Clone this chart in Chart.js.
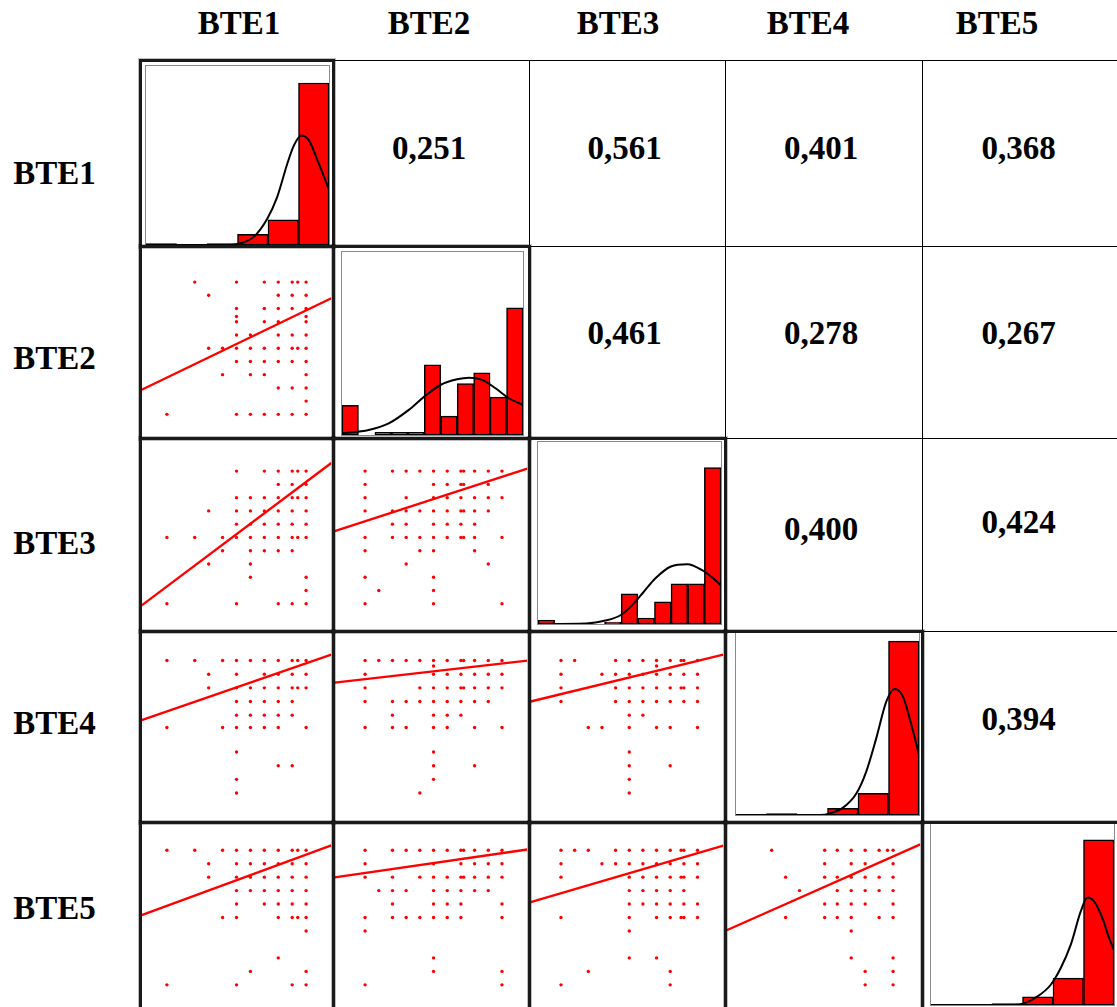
<!DOCTYPE html>
<html>
<head>
<meta charset="utf-8">
<script src="https://cdn.jsdelivr.net/npm/chart.js@4.4.1/dist/chart.umd.min.js"></script>
<style>
html,body{margin:0;padding:0;background:#fff;}
body{width:1117px;height:1007px;overflow:hidden;position:relative;font-family:"Liberation Serif","Times New Roman",serif;}
.txt{position:absolute;font-weight:bold;font-size:33px;line-height:36px;white-space:nowrap;color:#000;}
canvas{position:absolute;display:block;}
.frame{position:absolute;box-sizing:border-box;pointer-events:none;}
</style>
</head>
<body>
<script>
// ---------------- DATA ----------------
const variables = ['BTE1', 'BTE2', 'BTE3', 'BTE4', 'BTE5'];

// upper triangle: correlation coefficients (row i, columns i+1..5)
const corrRow1 = [0.251, 0.561, 0.401, 0.368];
const corrRow2 = [0.461, 0.278, 0.267];
const corrRow3 = [0.400, 0.424];
const corrRow4 = [0.394];

// diagonal: histogram counts per bin
const hist_BTE1 = [1, 0, 1, 8, 19, 122];
const hist_BTE2 = [11, 0, 1, 1, 1, 26, 7, 19, 23, 14, 47];
const hist_BTE3 = [2, 0, 0, 0, 1, 15, 3, 11, 20, 20, 78];
const hist_BTE4 = [0, 1, 0, 5, 16, 128];
const hist_BTE5 = [0, 0, 1, 6, 20, 123];
const histYMax  = [134.8, 67.7, 90.8, 134, 135.6];

// diagonal: fitted normal curve [bin position, count]
const curve_BTE1 = [[0,0],[2.77,0],[3.10,1.3],[3.54,6.3],[3.98,20],[4.30,36],[4.63,61],[4.85,75],[5.09,82.5],[5.34,78.8],[5.62,64],[5.84,51.3],[6.0,41.3]];
const curve_BTE2 = [[0,0.6],[1.62,1.85],[2.84,4.3],[4.06,9.3],[5.0,14.2],[5.98,18.5],[6.99,20.6],[7.71,21.2],[8.52,20.4],[9.33,17.3],[10.14,13.6],[11.0,11.1]];
const curve_BTE3 = [[0,0],[2.89,0.3],[4.05,1.7],[4.98,4.5],[5.67,9.5],[6.37,16.2],[7.06,22.8],[7.99,28.7],[8.98,29.8],[9.84,27],[10.53,22.8],[11.0,19.2]];
const curve_BTE4 = [[0,0],[2.75,0],[3.08,1.2],[3.51,5.4],[3.95,16],[4.27,32],[4.60,56.6],[4.93,83.6],[5.20,92.7],[5.47,87.3],[5.75,66.4],[6.0,44.3]];
const curve_BTE5 = [[0,0],[2.72,0],[3.05,1.2],[3.48,6.2],[3.92,14.9],[4.25,27.4],[4.58,44.8],[4.91,69.7],[5.13,80.1],[5.35,77.1],[5.62,64.7],[5.84,49.8],[6.0,41.0]];

// lower triangle: scatter points grouped by y level  [y, [x, x, ...]]
const sc_BTE2_BTE1 = [[10,[2,5,7,8,9,9.4,10]],[9,[3,8,9,10]],[8,[5,7,8,9,10]],[7.4,[5,10]],[7,[5,7,8,10]],[6,[5,6,8,9,10]],[5,[3,4,5,6,7,8,9,9.4,10]],[4,[5,6,7,8,9,10]],[3,[4,6,7,10]],[2,[8,9,10]],[1,[10]],[0,[0,5,6,7,8,9,10]]];
const sc_BTE3_BTE1 = [[10,[5,7,8,9,9.4,10]],[9,[8,9,10]],[8,[5,6,7,8,9,9.4,10]],[7,[3,5,6,7,8,9,10]],[6,[5,6,7,8,9,10]],[5,[0,2,4,5,6,7,8,9,9.4,10]],[4,[4,6,7,8,9]],[3,[3,6]],[2,[6,10]],[1,[10]],[0,[0,5,8,9,10]]];
const sc_BTE3_BTE2 = [[10,[0,2,3,4,5,6,7,7.2,8,9,10]],[9,[0,5,6,7,7.2,9]],[8,[0,3,5,6,7,8,9,10]],[7,[0,2,3,4,5,6,7,7.2,8,9]],[6,[2,3,5,6,7,8]],[5,[0,2,3,4,5,6,7,7.2,8,10]],[4,[0,4,5,8]],[3,[3,9]],[2,[0,5]],[1,[1,5]],[0,[0,5,10]]];
const sc_BTE4_BTE1 = [[10,[0,2,4,5,6,7,8,9,9.4,10]],[9,[3,5,7,8,9,10]],[8,[3,5,6,7,8,9,9.4,10]],[7,[5,6,7,8,9]],[6,[5,6,7,8,9]],[5.1,[0,4,5,6,7,8,10]],[3.3,[5]],[2.3,[8,9]],[1.3,[5]],[0.3,[5]]];
const sc_BTE4_BTE2 = [[10,[0,1,2,3,4,5,6,7,7.2,8,9,10]],[9.6,[5]],[9,[0,5,6,7,8,9,10]],[8,[0,4,5,6,7,7.2,8,9,10]],[7,[0,2,3,4,5,6,7,8,9]],[6,[2,5,6,7]],[5.1,[0,2,3,5,6,8,10]],[3.3,[5]],[2.3,[5,8]],[1.3,[5]],[0.3,[4]]];
const sc_BTE4_BTE3 = [[10,[0,1,4,5,6,7,8,8.8,9,10]],[9.6,[7]],[9,[0,3,4,5,6,7,8,9,10]],[8,[0,4,5,6,7,8,8.8,9,10]],[7,[0,4,5,6,7,8,9,10]],[6,[5,6]],[5.1,[2,3,5,7,8,10]],[3.3,[5]],[2.3,[5,8]],[1.3,[5]],[0.3,[5]]];
const sc_BTE5_BTE1 = [[10,[0,2,4,5,6,7,8,9,9.4,10]],[9,[3,5,6,7,8,9,10]],[8,[3,5,6,7,8,9,10]],[7,[5,6,7,8,9,10]],[6,[5,7,8,9,10]],[5,[4,5,8,9,9.4,10]],[4,[10]],[2,[8]],[1,[6,10]],[0,[0,5,9,10]]];
const sc_BTE5_BTE2 = [[10,[0,2,3,4,5,6,7,7.2,8,9,10]],[9,[0,5,7,8,9,10]],[8,[0,2,4,5,6,7,7.2,8,9,10]],[7,[1,2,3,5,6,7,8,9]],[6,[2,5,6,7,10]],[5,[0,2,3,4,5,6,7,10]],[4,[0]],[2,[5]],[1,[5,10]],[0,[0,10]]];
const sc_BTE5_BTE3 = [[10,[0,1,2,4,5,6,7,8,8.8,9,10]],[9,[0,3,4,5,6,7,8,9,10]],[8,[0,5,6,7,8,8.8,9,10]],[7,[5,6,7,8,9]],[6,[5,6,7,8,9,10]],[5,[0,5,7,8,8.8,9,10]],[4,[5]],[2,[5,7]],[1,[2,8]],[0,[0,8]]];
const sc_BTE5_BTE4 = [[10,[1.3,5.1,6,7,8,9,9.6,10]],[9,[5.1,7,8,10]],[8,[2.3,5.1,6,7,8,9,10]],[7,[3.3,6,7,8,9,10]],[6,[5.1,6,7,8,10]],[5,[2.3,5.1,6,7,9,10]],[4,[7]],[2,[7,10]],[1,[8,10]],[0,[8,10]]];

// lower triangle: regression line [intercept, slope]
const fit_BTE2_BTE1 = [2.78, 0.508];
const fit_BTE3_BTE1 = [1.30, 0.789];
const fit_BTE3_BTE2 = [6.22, 0.335];
const fit_BTE4_BTE1 = [6.27, 0.352];
const fit_BTE4_BTE2 = [8.64, 0.114];
const fit_BTE4_BTE3 = [7.54, 0.243];
const fit_BTE5_BTE1 = [5.87, 0.380];
const fit_BTE5_BTE2 = [8.31, 0.147];
const fit_BTE5_BTE3 = [6.81, 0.297];
const fit_BTE5_BTE4 = [4.94, 0.460];

// axis ranges (score units) when a variable is on x (columns) / on y (rows)
const xRangeMin = [-1.81, -2.22, -2.22, -1.92, -1.9];
const xRangeMax = [11.81, 11.85, 11.89, 11.95, 11.9];
const yRangeMin = [-1.9, -1.66, -1.93, -1.70, -2.04];
const yRangeMax = [12.0, 12.6, 12.37, 12.04, 11.97];

// ---------------- LAYOUT ----------------
const colEdges = [140, 333, 529, 725, 922, 1120];
const rowEdges = [60, 246, 438, 631, 822, 1014];
const histInner = [[145.7,65.7,328.3,245],[341.7,252.3,522.3,435],[538,442.3,720.5,624],[736,633.3,919.3,815],[930.7,823.3,1113.3,1005]];
const headerCenters = [239, 429, 618, 808, 997];
const rowLabelCenters = [173.5, 358, 543, 723, 908];
const valueCenterX = [0, 429, 624.5, 821, 1018.7];
const valueCenterY = [[0,148,148,148,148],[0,0,333.5,333.5,333.5],[0,0,0,529,522],[0,0,0,0,719]];

// ---------------- BUILD ----------------
const corrRows = [corrRow1, corrRow2, corrRow3, corrRow4];
const hists = [hist_BTE1, hist_BTE2, hist_BTE3, hist_BTE4, hist_BTE5];
const curves = [curve_BTE1, curve_BTE2, curve_BTE3, curve_BTE4, curve_BTE5];
const scatterTable = {
  'BTE2_BTE1': [sc_BTE2_BTE1, fit_BTE2_BTE1], 'BTE3_BTE1': [sc_BTE3_BTE1, fit_BTE3_BTE1],
  'BTE3_BTE2': [sc_BTE3_BTE2, fit_BTE3_BTE2], 'BTE4_BTE1': [sc_BTE4_BTE1, fit_BTE4_BTE1],
  'BTE4_BTE2': [sc_BTE4_BTE2, fit_BTE4_BTE2], 'BTE4_BTE3': [sc_BTE4_BTE3, fit_BTE4_BTE3],
  'BTE5_BTE1': [sc_BTE5_BTE1, fit_BTE5_BTE1], 'BTE5_BTE2': [sc_BTE5_BTE2, fit_BTE5_BTE2],
  'BTE5_BTE3': [sc_BTE5_BTE3, fit_BTE5_BTE3], 'BTE5_BTE4': [sc_BTE5_BTE4, fit_BTE5_BTE4]
};

function expand(groups){ const pts=[]; for(const [y,xs] of groups){ for(const x of xs){ pts.push({x:x,y:y}); } } return pts; }

function addText(str, left, top, center){
  const s = document.createElement('div');
  s.className = 'txt';
  s.textContent = str;
  s.style.left = left + 'px';
  s.style.top = top + 'px';
  if (center) s.style.transform = 'translateX(-50%)';
  document.body.appendChild(s);
}
function addCanvas(x0, y0, x1, y1){
  const c = document.createElement('canvas');
  const w = Math.round(x1 - x0), h = Math.round(y1 - y0);
  c.width = w; c.height = h;
  c.style.width = w + 'px'; c.style.height = h + 'px';
  c.style.left = Math.round(x0) + 'px'; c.style.top = Math.round(y0) + 'px';
  document.body.appendChild(c);
  return c;
}
function addFrame(x, y, w, h, css){
  const d = document.createElement('div');
  d.className = 'frame';
  d.style.left = x + 'px'; d.style.top = y + 'px';
  d.style.width = w + 'px'; d.style.height = h + 'px';
  d.style.cssText += css;
  document.body.appendChild(d);
}

const common = {
  responsive: false, maintainAspectRatio: false, animation: false, devicePixelRatio: 1, events: [],
  layout: { padding: 0 },
  plugins: { legend: { display: false }, tooltip: { enabled: false } }
};

// headers and row labels
variables.forEach((v, k) => {
  addText(v, headerCenters[k], 5.2, true);
  addText(v, 13.3, rowLabelCenters[k] - 18.2, false);
});

// text cells frames + values
for (let i = 0; i < 5; i++) {
  for (let j = i + 1; j < 5; j++) {
    const x0 = colEdges[j], x1 = colEdges[j+1], y0 = rowEdges[i], y1 = rowEdges[i+1];
    addFrame(x0, y0, x1 - x0 + 1, y1 - y0 + 1, 'border:1px solid #000;');
    const val = corrRows[i][j - i - 1];
    addText(val.toFixed(3).replace('.', ','), valueCenterX[j], valueCenterY[i][j] - 18.2, true);
  }
}

// scatter cells
for (let i = 1; i < 5; i++) {
  for (let j = 0; j < i; j++) {
    const x0 = colEdges[j], x1 = colEdges[j+1], y0 = rowEdges[i], y1 = rowEdges[i+1];
    const [groups, fit] = scatterTable[variables[i] + '_' + variables[j]];
    const xmin = xRangeMin[j], xmax = xRangeMax[j];
    const cv = addCanvas(x0, y0, x1, y1);
    new Chart(cv, {
      type: 'scatter',
      data: { datasets: [
        { data: expand(groups), pointRadius: 1.7, pointHoverRadius: 1.7, pointBackgroundColor: '#ff0000', pointBorderWidth: 0, borderWidth: 0, order: 2 },
        { type: 'line', data: [{x: xmin, y: fit[0] + fit[1] * xmin}, {x: xmax, y: fit[0] + fit[1] * xmax}],
          borderColor: '#ff0000', borderWidth: 2.4, pointRadius: 0, fill: false, tension: 0, order: 1 }
      ]},
      options: Object.assign({}, common, {
        scales: {
          x: { type: 'linear', display: false, min: xmin, max: xmax },
          y: { type: 'linear', display: false, min: yRangeMin[i], max: yRangeMax[i] }
        }
      })
    });
  }
}

// diagonal histograms
for (let k = 0; k < 5; k++) {
  const [ix0, iy0, ix1, iy1] = histInner[k];
  const counts = hists[k];
  const cv = addCanvas(ix0, iy0, ix1, iy1);
  new Chart(cv, {
    type: 'bar',
    data: { datasets: [
      { type: 'bar', data: counts.map((c, b) => ({x: b + 0.5, y: c})), backgroundColor: '#ff0000', borderColor: '#000',
        borderWidth: 1.5, borderSkipped: false, barPercentage: 1, categoryPercentage: 1, order: 2 },
      { type: 'line', data: curves[k].map(p => ({x: p[0], y: p[1]})), borderColor: '#000', borderWidth: 2,
        pointRadius: 0, fill: false, cubicInterpolationMode: 'monotone', order: 1 }
    ]},
    options: Object.assign({}, common, {
      scales: {
        x: { type: 'linear', display: false, min: 0, max: counts.length, offset: false },
        y: { type: 'linear', display: false, min: 0, max: histYMax[k] }
      }
    })
  });
  addFrame(Math.round(ix0) - 1, Math.round(iy0) - 1, Math.round(ix1 - ix0) + 2, Math.round(iy1 - iy0) + 2, 'border:1px solid #8a8a8a;');
}

// thick frames of scatter and diagonal cells
for (let i = 0; i < 5; i++) {
  for (let j = 0; j <= i; j++) {
    const x0 = colEdges[j], x1 = colEdges[j+1], y0 = rowEdges[i], y1 = rowEdges[i+1];
    addFrame(x0 - 1, y0 - 1, x1 - x0 + 3, y1 - y0 + 3, 'border:3px solid #1a1a1a;box-shadow:0 0 0 1px rgba(0,0,0,0.25);');
  }
}
</script>
</body>
</html>
